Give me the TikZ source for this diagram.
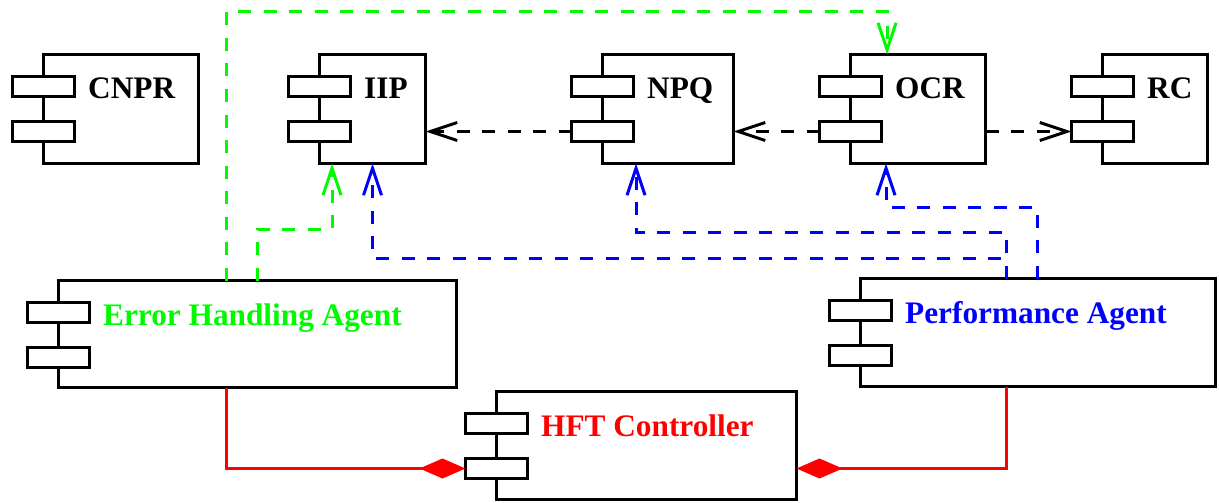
\documentclass[tikz,border=0pt]{standalone}
\usepackage{fontspec}
\setmainfont{Liberation Serif}
\usetikzlibrary{arrows.meta}

\definecolor{errgreen}{RGB}{0,250,0}
\definecolor{perfblue}{RGB}{0,0,255}
\definecolor{ctrlred}{RGB}{255,0,0}

\tikzset{
  compbody/.style={draw=black, line width=2.8pt, fill=white, inner sep=0pt,
    outer sep=0pt, anchor=north west},
  port/.style={draw=black, line width=2.8pt, fill=white, inner sep=0pt,
    outer sep=0pt, minimum width=62pt, minimum height=20pt, anchor=north},
  comptext/.style={font=\bfseries\fontsize{31.3}{36}\selectfont, inner sep=0pt,
    anchor=base west},
  dep/.style={line width=3pt, dash pattern=on 13pt off 12.5pt,
    -{Straight Barb[length=27pt,width=18pt]}},
  own/.style={line width=3pt, draw=ctrlred,
    -{Diamond[length=46pt,width=20pt,fill=ctrlred]}}
}

% UML component: name, left, top, width, height, label, label colour
\newcommand\compbox[7]{%
  \node[compbody, minimum width=#4pt, minimum height=#5pt] (#1) at (#2,#3) {};
  \node[port] (#1-p1) at ([yshift=-22pt]#1.north west) {};
  \node[port] (#1-p2) at ([yshift=-67pt]#1.north west) {};
  \node[comptext, text=#7] (#1-t) at ([xshift=13.5pt,yshift=-2.5pt]#1-p1.south east) {#6};
}

\begin{document}
\begin{tikzpicture}[x=1pt,y=-1pt]
\useasboundingbox (0,0) rectangle (1219,503);

% components
\compbox{CNPR}{43.5}{54.5}{155}{109}{CNPR}{black}
\compbox{IIP}{319.5}{54.5}{106}{109}{IIP}{black}
\compbox{NPQ}{602.5}{54.5}{131}{109}{NPQ}{black}
\compbox{OCR}{850.5}{54.5}{135}{109}{OCR}{black}
\compbox{RC}{1102.5}{54.5}{105}{109}{RC}{black}
\compbox{EHA}{58.5}{280.5}{398}{107}{Error Handling Agent}{errgreen}
\compbox{PA}{860.5}{278.5}{355}{108}{Performance Agent}{perfblue}
\compbox{HFT}{496.5}{391.5}{300}{108}{HFT Controller}{ctrlred}

% dependencies between the processing stages
\draw[dep] (NPQ-p2.west) -- (NPQ-p2.west -| IIP.east);
\draw[dep] (OCR-p2.west) -- (OCR-p2.west -| NPQ.east);
\draw[dep] (OCR.east |- RC-p2.west) -- (RC-p2.west);

% error handling agent
\coordinate (g1s) at ([xshift=167.5pt]EHA.north west);
\coordinate (g1e) at ([xshift=-31pt]OCR.north);
\coordinate (g1row) at (0,12);
\draw[dep, draw=errgreen] (g1s) |- (g1row -| g1e) -- (g1e);
\coordinate (g2s) at ([xshift=198.5pt]EHA.north west);
\coordinate (g2e) at ([xshift=-40.5pt]IIP.south);
\coordinate (g2row) at (0,229);
\draw[dep, draw=errgreen] (g2s) |- (g2row -| g2e) -- (g2e);

% performance agent
\coordinate (b1s) at ([xshift=145.5pt]PA.north west);
\coordinate (b3s) at ([xshift=176.5pt]PA.north west);
\coordinate (b1row) at (0,258);
\coordinate (b2row) at (0,232);
\coordinate (b3row) at (0,207);
\coordinate (b2e) at ([xshift=-32pt]NPQ.south);
\coordinate (b3e) at ([xshift=-32pt]OCR.south);
\draw[dep, draw=perfblue] (b1s) |- (b1row -| IIP.south) -- (IIP.south);
\draw[dep, draw=perfblue] (b1s) |- (b2row -| b2e) -- (b2e);
\draw[dep, draw=perfblue] (b3s) |- (b3row -| b3e) -- (b3e);

% controller composition
\coordinate (r1s) at ([xshift=167.5pt]EHA.south west);
\coordinate (r2s) at ([xshift=145.5pt]PA.south west);
\draw[own] (r1s) |- (HFT-p2.west);
\draw[own] (r2s) |- (HFT-p2.west -| HFT.east);
\end{tikzpicture}
\end{document}
